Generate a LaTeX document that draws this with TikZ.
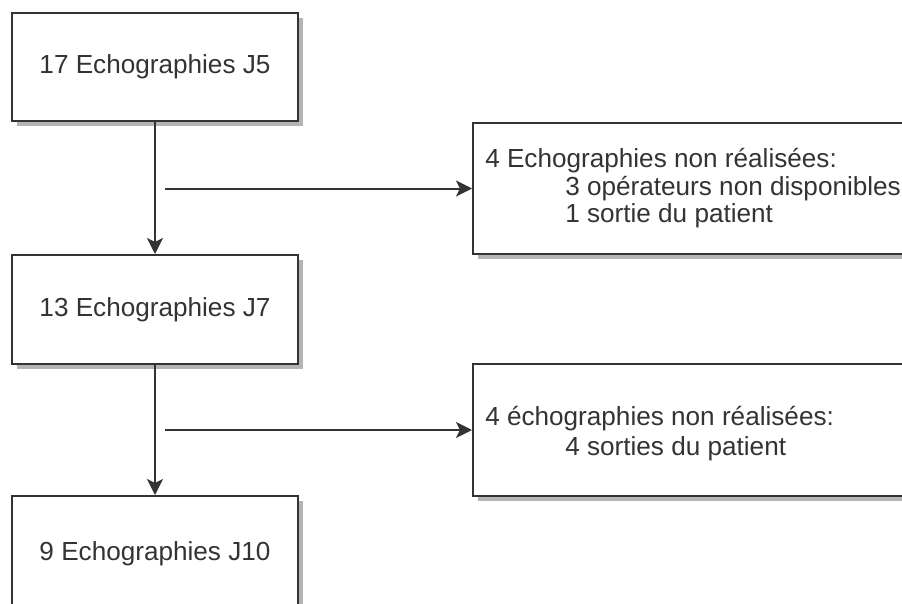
\documentclass[tikz,border=0pt]{standalone}
\usepackage{fontspec}
\setmainfont{Liberation Sans}
\usetikzlibrary{arrows.meta,shadows}
\definecolor{ink}{HTML}{333333}
\definecolor{shade}{HTML}{B4B4B4}
\begin{document}
\begin{tikzpicture}[x=0.75pt,y=-0.75pt,
  box/.style={draw=ink, line width=1.5pt, fill=white, inner sep=0pt,
    drop shadow={shadow xshift=3.75pt, shadow yshift=-3.75pt, fill=shade, opacity=1}},
  lbl/.style={inner sep=0pt, text=ink, font=\fontsize{19.6pt}{21.5pt}\selectfont},
  arr/.style={draw=ink, line width=1.5pt, -{Stealth[length=12pt,width=12pt,inset=3pt]}}]
\useasboundingbox (0,0) rectangle (902,603);
\clip (0,0) rectangle (902,603);
\fill[white] (0,0) rectangle (902,603);
% left column
\node[box, minimum width=214.5pt, minimum height=81pt, lbl] (b1) at (155,67) {17 Echographies J5};
\node[box, minimum width=214.5pt, minimum height=81.75pt, lbl] (b2) at (155,309.5) {13 Echographies J7};
\node[box, minimum width=214.5pt, minimum height=90pt] (b3) at (155,556) {};
\node[lbl, anchor=base] (t3) at (155,560) {9 Echographies J10};
% right column
\node[box, minimum width=357.75pt, minimum height=98.25pt] (r1) at (711.5,188.5) {};
\node[box, minimum width=357.75pt, minimum height=99pt] (r2) at (711.5,430) {};
\node[lbl, anchor=base west] (r1a) at (485,167) {4 Echographies non réalisées:};
\node[lbl, anchor=base west] (r1b) at (565,195) {3 opérateurs non disponibles};
\node[lbl, anchor=base west] (r1c) at (565,222) {1 sortie du patient};
\node[lbl, anchor=base west] (r2a) at (485,425) {4 échographies non réalisées:};
\node[lbl, anchor=base west] (r2b) at (565,455) {4 sorties du patient};
% connectors
\draw[arr] (b1.south) -- (b2.north);
\draw[arr] (b2.south) -- (b3.north);
\coordinate (s1) at (165,188.5);
\coordinate (s2) at (165,430);
\draw[arr] (s1) -- (r1.west);
\draw[arr] (s2) -- (r2.west);
\end{tikzpicture}
\end{document}
